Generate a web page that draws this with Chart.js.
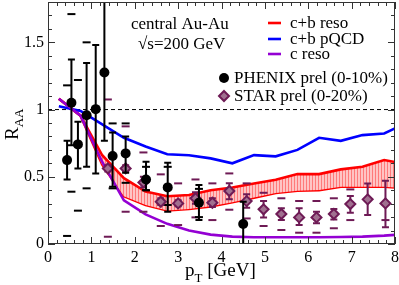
<!DOCTYPE html>
<html><head><meta charset="utf-8">
<script src="https://cdn.jsdelivr.net/npm/chart.js@4.4.0/dist/chart.umd.min.js"></script>
<style>html,body{margin:0;padding:0;background:#fff;overflow:hidden}</style>
</head><body>
<canvas id="c" width="399" height="285"></canvas>
<script>
// ---- data ----
const curveX      = [0.25, 0.75, 1.25, 1.75, 2.25, 2.75, 3.25, 3.75, 4.25, 4.75, 5.25, 5.75, 6.25, 6.75, 7.25, 7.75, 8.0];
const cbPqcd      = [1.025, 0.99, 0.89, 0.79, 0.725, 0.668, 0.66, 0.637, 0.60, 0.661, 0.652, 0.70, 0.79, 0.767, 0.81, 0.822, 0.86];
const cReso       = [1.08, 0.955, 0.61, 0.325, 0.22, 0.15, 0.10, 0.07, 0.055, 0.05, 0.05, 0.05, 0.05, 0.052, 0.055, 0.062, 0.068];
const cbResoUpper = [1.08, 0.955, 0.66, 0.49, 0.39, 0.355, 0.365, 0.40, 0.42, 0.45, 0.478, 0.52, 0.52, 0.555, 0.575, 0.625, 0.61];
const cbResoLower = [1.08, 0.955, 0.59, 0.355, 0.29, 0.25, 0.26, 0.28, 0.31, 0.345, 0.38, 0.396, 0.401, 0.426, 0.426, 0.426, 0.421];

const phxPt     = [0.44, 0.54, 0.69, 0.89, 1.10, 1.30, 1.49, 1.79, 2.26, 2.76, 3.48, 4.50];
const phxVal    = [0.624, 1.05, 0.741, 0.958, 1.003, 1.275, 0.654, 0.674, 0.48, 0.421, 0.307, 0.149];
const phxStatLo = [0.48, 0.735, 0.562, 0.574, 0.525, 0.768, 0.426, 0.53, 0.40, 0.24, 0.178, -0.05];
const phxStatHi = [0.768, 1.372, 0.91, 1.347, 1.48, 1.85, 0.83, 0.80, 0.611, 0.604, 0.438, 0.314];
const phxSysLo  = [0.06, 0.389, 0.248, 0.414, null, null, 0.414, 0.455, 0.40, 0.29, 0.20, null];
const phxSysHi  = [1.18, 1.71, 1.22, 1.50, null, null, 0.897, 0.897, 0.574, 0.574, 0.41, null];

const starPt     = [1.38, 1.79, 2.2, 2.6, 3.0, 3.4, 3.79, 4.18, 4.58, 4.97, 5.38, 5.79, 6.19, 6.59, 6.97, 7.37, 7.78];
const starVal    = [0.562, 0.562, 0.458, 0.314, 0.302, 0.34, 0.307, 0.394, 0.319, 0.258, 0.223, 0.198, 0.198, 0.223, 0.297, 0.332, 0.302];
const starStatLo = [0.54, 0.54, 0.42, 0.29, 0.28, 0.30, 0.275, 0.332, 0.27, 0.198, 0.178, 0.141, 0.154, 0.183, 0.233, 0.215, 0.124];
const starStatHi = [0.585, 0.585, 0.50, 0.34, 0.325, 0.385, 0.34, 0.451, 0.37, 0.32, 0.265, 0.265, 0.24, 0.26, 0.357, 0.45, 0.47];
const starSysLo  = [0.054, 0.24, 0.24, 0.134, 0.141, 0.198, 0.178, 0.255, 0.19, 0.134, 0.104, 0.084, 0.084, 0.117, 0.178, null, 0.178];
const starSysHi  = [1.075, 0.875, 0.681, 0.518, 0.451, 0.48, 0.451, 0.525, 0.451, 0.381, 0.34, 0.32, 0.32, 0.34, 0.406, null, null];

const xTicks = [0,1,2,3,4,5,6,7,8];
const yTicks = [0,0.5,1,1.5];

// ---- helpers ----
const pts = (xs, ys) => xs.map((x,i)=>({x, y: ys[i]}));
const dashPts = (xs, lo, hi) => {
  const out = [];
  xs.forEach((x,i)=>{ if(lo[i]!=null) out.push({x,y:lo[i]}); if(hi[i]!=null) out.push({x,y:hi[i]}); });
  return out;
};
const FONT = "'Liberation Serif', 'Times New Roman', serif";
Chart.defaults.font.family = FONT;
Chart.defaults.color = '#000';

const STAR_DARK = '#6e1a55';
const STAR_FILL = '#a07090';
const PURPLE = '#9400d3';

// hatch pattern for the c+b reso band
const pc = document.createElement('canvas'); pc.width = 3; pc.height = 3;
const pctx = pc.getContext('2d');
pctx.fillStyle = '#ffc4c4'; pctx.fillRect(0,0,3,3);
pctx.fillStyle = '#ff7a7a'; pctx.fillRect(0,0,1,3);
const ctx0 = document.getElementById('c').getContext('2d');
const hatch = ctx0.createPattern(pc, 'repeat');

const lineDs = (label, ys, color, order, extra) => Object.assign({
  label, data: pts(curveX, ys), showLine: true, borderColor: color, borderWidth: 2.6,
  pointRadius: 0, fill: false, tension: 0, order
}, extra||{});

const errPlugin = {
  id: 'errbars',
  beforeDatasetDraw(chart, args){
    const ds = chart.data.datasets[args.index];
    if(!ds.errLo) return;
    const {ctx, chartArea:a, scales:{x,y}} = chart;
    ctx.save();
    ctx.beginPath(); ctx.rect(a.left, a.top, a.right-a.left, a.bottom-a.top); ctx.clip();
    ctx.strokeStyle = ds.errColor; ctx.lineWidth = 2;
    ds.data.forEach((p,i)=>{
      const px = x.getPixelForValue(p.x);
      const pl = y.getPixelForValue(ds.errLo[i]), ph = y.getPixelForValue(ds.errHi[i]);
      ctx.beginPath();
      ctx.moveTo(px,pl); ctx.lineTo(px,ph);
      ctx.moveTo(px-3.5,pl); ctx.lineTo(px+3.5,pl);
      ctx.moveTo(px-3.5,ph); ctx.lineTo(px+3.5,ph);
      ctx.stroke();
    });
    ctx.restore();
  }
};

const framePlugin = {
  id: 'frame',
  afterDraw(chart){
    const {ctx, chartArea:a, scales:{x,y}} = chart;
    ctx.save();
    ctx.strokeStyle = '#333'; ctx.lineWidth = 1;
    ctx.strokeRect(a.left+0.5, a.top+0.5, a.right-a.left-1, a.bottom-a.top-1);
    ctx.beginPath();
    for(let i=0;i<=40;i++){
      const v = i*0.2, px = Math.round(x.getPixelForValue(v))+0.5;
      const len = (i%5===0) ? 7 : 4;
      ctx.moveTo(px, a.bottom); ctx.lineTo(px, a.bottom-len);
      ctx.moveTo(px, a.top); ctx.lineTo(px, a.top+len);
    }
    for(let i=0;i<=18;i++){
      const v = i*0.1, py = Math.round(y.getPixelForValue(v))+0.5;
      const len = (i%5===0) ? 7 : 4;
      ctx.moveTo(a.left, py); ctx.lineTo(a.left+len, py);
      ctx.moveTo(a.right, py); ctx.lineTo(a.right-len, py);
    }
    ctx.stroke();

    // axis titles
    ctx.fillStyle = '#000';
    ctx.textBaseline = 'alphabetic'; ctx.textAlign = 'left';
    ctx.font = '19px ' + FONT;
    let xx = 185;
    ctx.fillText('p', xx, 276); xx += ctx.measureText('p').width;
    ctx.font = '13px ' + FONT;
    ctx.fillText('T', xx, 282); xx += ctx.measureText('T').width;
    ctx.font = '19px ' + FONT;
    ctx.fillText(' [GeV]', xx, 276);
    ctx.save();
    ctx.translate(18, 140); ctx.rotate(-Math.PI/2);
    ctx.font = '19px ' + FONT;
    ctx.fillText('R', 0, 0);
    const rw = ctx.measureText('R').width;
    ctx.font = '13px ' + FONT;
    ctx.fillText('AA', rw, 5);
    ctx.restore();

    // annotation
    ctx.font = '17px ' + FONT;
    ctx.textBaseline = 'middle';
    ctx.fillText('central Au-Au', 131, 25);
    ctx.fillText('\u221As=200 GeV', 138, 45);

    // legend
    const leg = [['c+b reso','#ff0000',23],['c+b pQCD','#0000ff',39],['c reso',PURPLE,54]];
    leg.forEach(([t,c,yy])=>{
      ctx.strokeStyle = c; ctx.lineWidth = 2.6;
      ctx.beginPath(); ctx.moveTo(268, yy); ctx.lineTo(281, yy); ctx.stroke();
      ctx.fillText(t, 290, yy+1);
    });
    ctx.fillStyle = '#000';
    ctx.beginPath(); ctx.arc(224, 78, 5, 0, Math.PI*2); ctx.fill();
    ctx.fillText('PHENIX prel (0-10%)', 234, 79);
    ctx.beginPath();
    ctx.moveTo(224, 91); ctx.lineTo(229, 96); ctx.lineTo(224, 101); ctx.lineTo(219, 96); ctx.closePath();
    ctx.fillStyle = STAR_FILL; ctx.fill();
    ctx.strokeStyle = STAR_DARK; ctx.lineWidth = 2; ctx.stroke();
    ctx.fillStyle = '#000';
    ctx.fillText('STAR prel (0-20%)', 234, 97);
    ctx.restore();
  }
};

const noPad = s => { s.paddingTop = 0; s.paddingBottom = 0; s.paddingLeft = 0; s.paddingRight = 0; };
const fmt = v => String(v);

new Chart(ctx0, {
  type: 'scatter',
  data: { datasets: [
    { label:'PHENIX', data: pts(phxPt, phxVal), pointStyle:'circle', pointRadius:5,
      backgroundColor:'#000', borderColor:'#000', borderWidth:0, order:0,
      errLo: phxStatLo, errHi: phxStatHi, errColor:'#000' },
    { label:'STAR', data: pts(starPt, starVal), pointStyle:'rectRot', pointRadius:5,
      backgroundColor:STAR_FILL, borderColor:STAR_DARK, borderWidth:2, order:1,
      errLo: starStatLo, errHi: starStatHi, errColor:STAR_DARK },
    { label:'PHENIX sys', data: dashPts(phxPt, phxSysLo, phxSysHi), pointStyle:'line', pointRadius:4,
      borderColor:'#000', borderWidth:2, order:2 },
    { label:'STAR sys', data: dashPts(starPt, starSysLo, starSysHi), pointStyle:'line', pointRadius:4,
      borderColor:STAR_DARK, borderWidth:2, order:3 },
    lineDs('c reso', cReso, PURPLE, 4),
    lineDs('c+b pQCD', cbPqcd, '#0000ff', 5),
    lineDs('c+b reso lo', cbResoLower, '#ff0000', 7),
    lineDs('c+b reso', cbResoUpper, '#ff0000', 6, { fill: '-1', backgroundColor: hatch }),
    { label:'one', data:[{x:0,y:1},{x:8,y:1}], showLine:true, borderColor:'#000', borderWidth:1,
      borderDash:[4,3], pointRadius:0, fill:false, order:10 }
  ]},
  options: {
    responsive:false, animation:false, devicePixelRatio:1,
    layout:{ autoPadding:false, padding:{ left:0, right:4, top:2, bottom:0 } },
    plugins:{ legend:{display:false}, tooltip:{enabled:false} },
    scales:{
      x:{ type:'linear', min:0, max:8,
        afterBuildTicks(s){ s.ticks = xTicks.map(v=>({value:v})); },
        afterFit(s){ s.height = 41; noPad(s); },
        grid:{display:false, drawTicks:false}, border:{display:false},
        ticks:{ font:{size:16, family:FONT}, color:'#000', padding:4, maxRotation:0, autoSkip:false, callback:fmt } },
      y:{ type:'linear', min:0, max:1.8,
        afterBuildTicks(s){ s.ticks = yTicks.map(v=>({value:v})); },
        afterFit(s){ s.width = 48; noPad(s); },
        grid:{display:false, drawTicks:false}, border:{display:false},
        ticks:{ font:{size:16, family:FONT}, color:'#000', padding:4, autoSkip:false, callback:fmt } }
    }
  },
  plugins:[errPlugin, framePlugin]
});
</script>
</body></html>
